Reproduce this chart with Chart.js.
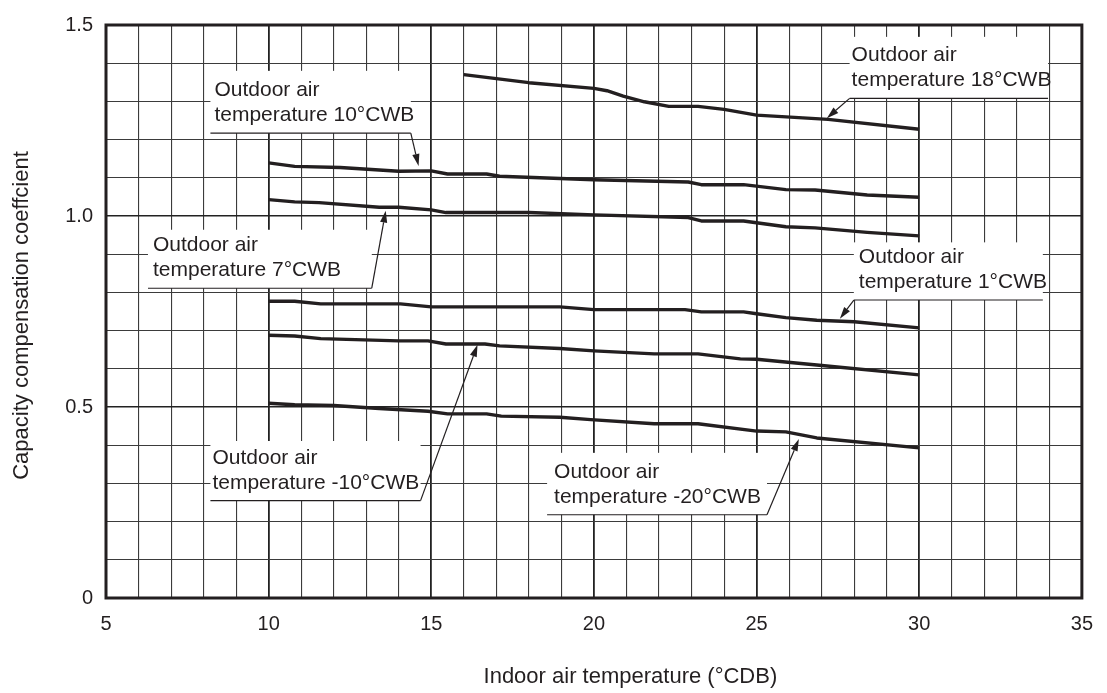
<!DOCTYPE html>
<html>
<head>
<meta charset="utf-8">
<script src="https://cdn.jsdelivr.net/npm/chart.js@4/dist/chart.umd.min.js"></script>
<style>
  html, body { margin: 0; padding: 0; background: #ffffff; }
  #wrap { width: 1107px; height: 693px; position: relative; }
</style>
</head>
<body>
<div id="wrap"><canvas id="chart"></canvas></div>
<script>
// Capacity compensation coefficient vs. indoor air temperature (°CDB),
// one curve per outdoor air wet-bulb temperature.
const x18 = [16.0, 18.0, 20.0, 20.4, 20.9, 21.55, 22.3, 23.2, 24.0, 25.0, 27.2, 30.0];
const y18 = [1.370, 1.349, 1.334, 1.328, 1.314, 1.299, 1.287, 1.287, 1.279, 1.264, 1.253, 1.227];

const x10 = [10.0, 10.8, 12.2, 14.0, 15.0, 15.5, 16.7, 17.1, 20.0, 22.9, 23.3, 24.6, 25.9, 26.8, 28.4, 30.0];
const y10 = [1.139, 1.130, 1.127, 1.117, 1.118, 1.110, 1.110, 1.104, 1.095, 1.089, 1.082, 1.082, 1.069, 1.068, 1.055, 1.049];

const x7 = [10.0, 10.8, 11.55, 13.4, 14.0, 15.0, 15.45, 18.0, 20.0, 22.9, 23.3, 24.6, 25.9, 26.8, 28.4, 30.0];
const y7 = [1.043, 1.037, 1.035, 1.023, 1.023, 1.016, 1.009, 1.009, 1.003, 0.996, 0.987, 0.987, 0.972, 0.969, 0.957, 0.948];

const x1 = [10.0, 10.8, 11.6, 14.05, 15.0, 18.95, 20.0, 22.8, 23.3, 24.6, 25.0, 25.9, 26.85, 28.0, 30.0];
const y1 = [0.777, 0.777, 0.770, 0.770, 0.762, 0.762, 0.755, 0.755, 0.749, 0.749, 0.744, 0.734, 0.727, 0.723, 0.707];

const xm10 = [10.0, 10.8, 11.6, 14.0, 14.9, 15.45, 16.65, 17.1, 18.95, 20.0, 21.85, 23.2, 24.5, 25.0, 26.85, 30.0];
const ym10 = [0.688, 0.686, 0.679, 0.673, 0.673, 0.665, 0.665, 0.660, 0.653, 0.647, 0.639, 0.639, 0.626, 0.625, 0.610, 0.584];

const xm20 = [10.0, 10.8, 12.0, 13.4, 14.9, 15.5, 16.7, 17.15, 18.95, 19.9, 21.85, 23.2, 25.0, 25.9, 26.85, 30.0];
const ym20 = [0.510, 0.506, 0.504, 0.496, 0.489, 0.482, 0.482, 0.476, 0.473, 0.467, 0.456, 0.456, 0.437, 0.435, 0.419, 0.393];

const seriesNames = ['18°CWB', '10°CWB', '7°CWB', '1°CWB', '-10°CWB', '-20°CWB'];
const seriesX = [x18, x10, x7, x1, xm10, xm20];
const seriesY = [y18, y10, y7, y1, ym10, ym20];

const xTickValues = [5, 10, 15, 20, 25, 30, 35];
const xTickLabels = ['5', '10', '15', '20', '25', '30', '35'];
const yTickValues = [0, 0.5, 1.0, 1.5];
const yTickLabels = ['0', '0.5', '1.0', '1.5'];

const xAxisTitle = 'Indoor air temperature (\u00B0CDB)';
const yAxisTitle = 'Capacity compensation coeffcient';

// Callout boxes: [xLeft, xRight, yTop, yBottom] in axis units, leader from the
// underline's left or right end to an arrow tip on the curve.
const callouts = [
  { lines: ['Outdoor air', 'temperature 18\u00B0CWB'], box: [27.86, 33.96, 1.469, 1.308], pad: 2, from: 'left', tip: [27.16, 1.256] },
  { lines: ['Outdoor air', 'temperature 10\u00B0CWB'], box: [8.21, 14.37, 1.380, 1.217], pad: 4, from: 'right', tip: [14.61, 1.131] },
  { lines: ['Outdoor air', 'temperature 7\u00B0CWB'], box: [6.29, 13.17, 0.964, 0.811], pad: 5, from: 'right', tip: [13.60, 1.014] },
  { lines: ['Outdoor air', 'temperature 1\u00B0CWB'], box: [27.99, 33.80, 0.931, 0.780], pad: 5, from: 'left', tip: [27.56, 0.731] },
  { lines: ['Outdoor air', 'temperature -10\u00B0CWB'], box: [8.21, 14.67, 0.411, 0.255], pad: 2, from: 'right', tip: [16.42, 0.663] },
  { lines: ['Outdoor air', 'temperature -20\u00B0CWB'], box: [18.56, 25.32, 0.380, 0.218], pad: 7, from: 'right', tip: [26.30, 0.416] }
];

const INK = '#231f20';
const GRID = '#3b3b3b';
const FONT = '"Liberation Sans", Arial, Helvetica, sans-serif';

const datasets = seriesNames.map((name, i) => ({
  label: name,
  data: seriesX[i].map((x, k) => ({ x: x, y: seriesY[i][k] })),
  borderColor: INK,
  backgroundColor: INK,
  borderWidth: 3.4,
  pointRadius: 0,
  tension: 0,
  fill: false,
  borderJoinStyle: 'round'
}));

function isMajorX(v) { return Math.abs(v % 5) < 1e-6; }
function isMajorY(v) { return Math.abs(Math.round(v * 10) % 5) === 0; }

function findLabel(values, labels, v) {
  for (let i = 0; i < values.length; i++) {
    if (Math.abs(values[i] - v) < 1e-6) return labels[i];
  }
  return '';
}

// Callout boxes with their text, drawn over the grid and under the curves.
const calloutBoxes = {
  id: 'calloutBoxes',
  beforeDatasetsDraw(chart) {
    const { ctx, scales: { x, y } } = chart;
    ctx.save();
    callouts.forEach(c => {
      const l = x.getPixelForValue(c.box[0]);
      const r = x.getPixelForValue(c.box[1]);
      const t = y.getPixelForValue(c.box[2]);
      const b = y.getPixelForValue(c.box[3]);
      ctx.fillStyle = '#ffffff';
      ctx.fillRect(l, t, r - l, b - t);
      ctx.strokeStyle = INK;
      ctx.lineWidth = 1.1;
      ctx.beginPath();
      ctx.moveTo(l, b);
      ctx.lineTo(r, b);
      ctx.stroke();
      ctx.fillStyle = INK;
      ctx.font = '21px ' + FONT;
      ctx.textAlign = 'left';
      ctx.textBaseline = 'alphabetic';
      ctx.fillText(c.lines[0], l + c.pad, b - 37);
      ctx.fillText(c.lines[1], l + c.pad, b - 12);
    });
    ctx.restore();
  },
  afterDatasetsDraw(chart) {
    const { ctx, scales: { x, y }, chartArea: a } = chart;
    ctx.save();
    // leaders with arrowheads
    callouts.forEach(c => {
      const sx = x.getPixelForValue(c.from === 'left' ? c.box[0] : c.box[1]);
      const sy = y.getPixelForValue(c.box[3]);
      const tx = x.getPixelForValue(c.tip[0]);
      const ty = y.getPixelForValue(c.tip[1]);
      const ang = Math.atan2(ty - sy, tx - sx);
      const len = 12, half = 3.6;
      const bx = tx - len * Math.cos(ang), by = ty - len * Math.sin(ang);
      ctx.strokeStyle = INK;
      ctx.lineWidth = 1.2;
      ctx.beginPath();
      ctx.moveTo(sx, sy);
      ctx.lineTo(bx, by);
      ctx.stroke();
      ctx.fillStyle = INK;
      ctx.beginPath();
      ctx.moveTo(tx, ty);
      ctx.lineTo(bx + half * Math.sin(ang), by - half * Math.cos(ang));
      ctx.lineTo(bx - half * Math.sin(ang), by + half * Math.cos(ang));
      ctx.closePath();
      ctx.fill();
    });
    // plot frame
    ctx.strokeStyle = INK;
    ctx.lineWidth = 3;
    ctx.strokeRect(a.left, a.top, a.right - a.left, a.bottom - a.top);
    // axis titles
    ctx.fillStyle = INK;
    ctx.font = '22px ' + FONT;
    ctx.textAlign = 'center';
    ctx.textBaseline = 'middle';
    ctx.fillText(xAxisTitle, x.getPixelForValue(21.12), 677);
    ctx.translate(22, (a.top + a.bottom) / 2 + 4);
    ctx.rotate(-Math.PI / 2);
    ctx.fillText(yAxisTitle, 0, 0);
    ctx.restore();
  }
};

new Chart(document.getElementById('chart'), {
  type: 'line',
  data: { datasets: datasets },
  plugins: [calloutBoxes],
  options: {
    responsive: true,
    maintainAspectRatio: false,
    animation: false,
    layout: { padding: { top: 21, right: 21, left: 0, bottom: 0 } },
    plugins: {
      legend: { display: false },
      tooltip: { enabled: false },
      title: { display: false }
    },
    scales: {
      x: {
        type: 'linear',
        min: 5,
        max: 35,
        afterBuildTicks(scale) {
          const t = [];
          for (let v = 5; v <= 35; v++) t.push({ value: v });
          scale.ticks = t;
        },
        afterFit(scale) { scale.height = 95; },
        ticks: {
          autoSkip: false,
          maxRotation: 0,
          padding: 14,
          color: INK,
          font: { family: FONT, size: 20 },
          callback: v => findLabel(xTickValues, xTickLabels, v)
        },
        grid: {
          drawTicks: false,
          color: ctx => (isMajorX(ctx.tick.value) ? '#222222' : GRID),
          lineWidth: ctx => (isMajorX(ctx.tick.value) ? 1.8 : 1.1)
        },
        border: { display: false }
      },
      y: {
        type: 'linear',
        min: 0,
        max: 1.5,
        afterBuildTicks(scale) {
          const t = [];
          for (let i = 0; i <= 15; i++) t.push({ value: i / 10 });
          scale.ticks = t;
        },
        afterFit(scale) { scale.width = 106; },
        ticks: {
          autoSkip: false,
          padding: 13,
          color: INK,
          font: { family: FONT, size: 20 },
          callback: v => findLabel(yTickValues, yTickLabels, v)
        },
        grid: {
          drawTicks: false,
          color: ctx => (isMajorY(ctx.tick.value) ? '#222222' : GRID),
          lineWidth: ctx => (isMajorY(ctx.tick.value) ? 1.6 : 1.1)
        },
        border: { display: false }
      }
    }
  }
});
</script>
</body>
</html>
